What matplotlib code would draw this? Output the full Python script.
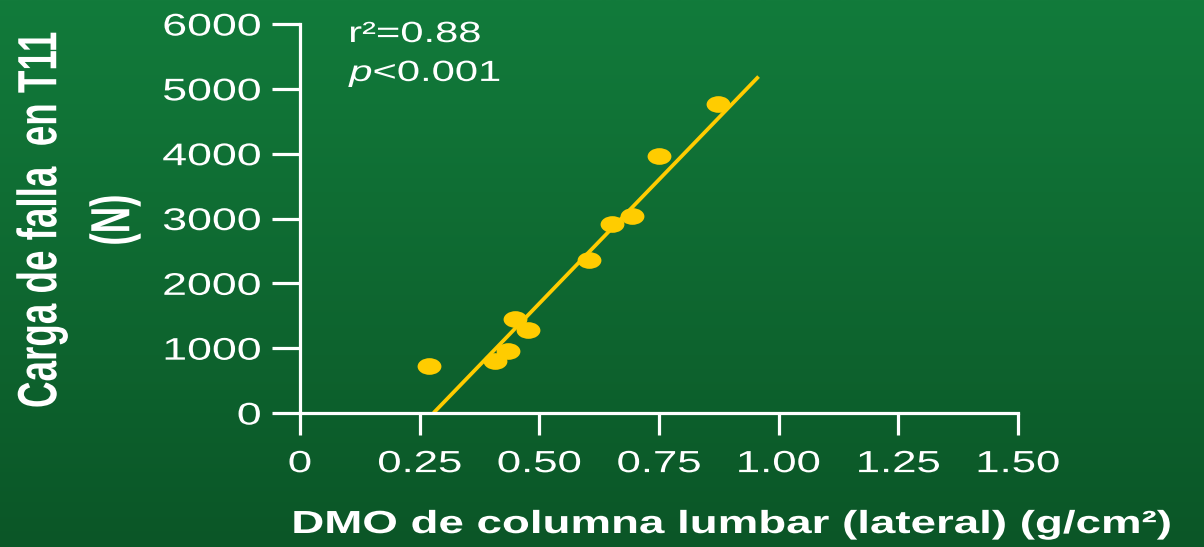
import numpy as np
import matplotlib
matplotlib.use("Agg")
import matplotlib.pyplot as plt
import matplotlib.patheffects as pe
from matplotlib.markers import MarkerStyle
from matplotlib.transforms import Affine2D

plt.rcParams['font.family'] = ['Liberation Sans', 'DejaVu Sans']
plt.rcParams['mathtext.fontset'] = 'custom'
plt.rcParams['mathtext.rm'] = 'Liberation Sans'
plt.rcParams['mathtext.it'] = 'Liberation Sans:italic'

# DMO lateral (g/cm2) vs carga de falla en T11 (N)
dmo = [0.270, 0.407, 0.434, 0.450, 0.477, 0.604, 0.652, 0.693, 0.749, 0.874]
carga = [725, 800, 955, 1450, 1280, 2355, 2915, 3035, 3965, 4765]

# regression line
fit_slope = 7640
fit_intercept = -2130
fit_x = [0.279, 0.958]

x_ticks = [0, 0.25, 0.50, 0.75, 1.00, 1.25, 1.50]
x_ticklabels = ['0', '0.25', '0.50', '0.75', '1.00', '1.25', '1.50']
y_ticks = [0, 1000, 2000, 3000, 4000, 5000, 6000]

stats_lines = ['r²=0.88', '$p$<0.001']
xlabel = 'DMO de columna lumbar (lateral) (g/cm²)'
ylabel_lines = ['Carga de falla  en T11', '(N)']

yellow = '#FFCC00'
K = 1.43  # horizontal widening of glyphs and markers


class HStretch(pe.AbstractPathEffect):
    """Widen text horizontally about its left, centre or right edge."""
    def __init__(self, k, anchor='center'):
        super().__init__()
        self.k = k
        self.anchor = anchor

    def draw_path(self, renderer, gc, tpath, affine, rgbFace=None):
        box = tpath.get_extents(affine)
        px = {'left': box.x0, 'right': box.x1}.get(self.anchor, (box.x0 + box.x1) / 2)
        stretch = Affine2D().translate(-px, 0).scale(self.k, 1).translate(px, 0)
        renderer.draw_path(gc, tpath, affine + stretch, rgbFace)


W, H = 1204, 547
fig = plt.figure(figsize=(W / 100, H / 100), dpi=100)

# green gradient background
bg = fig.add_axes([0, 0, 1, 1], zorder=-10)
top = np.array([18, 123, 59]) / 255
bottom = np.array([11, 86, 39]) / 255
t = np.linspace(0, 1, 256)[:, None]
grad = (top[None, :] * (1 - t) + bottom[None, :] * t)[:, None, :]
bg.imshow(grad, aspect='auto', extent=[0, 1, 0, 1])
bg.axis('off')

ax = fig.add_axes([300 / W, 1 - 413 / H, (1018 - 300) / W, (413 - 24) / H])
ax.patch.set_alpha(0)

mk = MarkerStyle('o', transform=Affine2D().scale(K, 1))
ax.plot(dmo, carga, linestyle='none', marker=mk, markersize=12,
        color=yellow, markeredgewidth=0, zorder=3, clip_on=False)

fx = np.array(fit_x)
ax.plot(fx, fit_slope * fx + fit_intercept, color=yellow, lw=2.7,
        solid_capstyle='butt', zorder=2, clip_on=False)

ax.set_xlim(0, 1.5)
ax.set_ylim(0, 6000)
for side in ['top', 'right']:
    ax.spines[side].set_visible(False)
for side in ['left', 'bottom']:
    ax.spines[side].set_color('white')
    ax.spines[side].set_linewidth(2.3)

ax.set_xticks(x_ticks)
ax.set_xticklabels(x_ticklabels)
ax.set_yticks(y_ticks)
ax.tick_params(axis='x', colors='white', width=2.3, length=16, pad=10,
               labelsize=22)
ax.tick_params(axis='y', colors='white', width=2.3, length=20, pad=8,
               labelsize=22.5)
for lbl in ax.get_xticklabels():
    lbl.set_path_effects([HStretch(K, 'center')])
for lbl in ax.get_yticklabels():
    lbl.set_path_effects([HStretch(K, 'right')])

# statistics
fig.text(349 / W, 1 - 42 / H, stats_lines[0], color='white', fontsize=21,
         ha='left', va='baseline', path_effects=[HStretch(K, 'left')])
fig.text(349 / W, 1 - 81 / H, stats_lines[1], color='white', fontsize=21,
         ha='left', va='baseline', path_effects=[HStretch(K, 'left')])

# axis titles
fig.text(732 / W, 1 - 525 / H, xlabel, color='white', fontsize=23,
         fontweight='bold', ha='center', va='center',
         path_effects=[HStretch(K, 'center')])
fig.text(42 / W, 1 - 220 / H, ylabel_lines[0], color='white', fontsize=26.5,
         fontweight='bold', rotation=90, ha='center', va='center',
         path_effects=[HStretch(1.5, 'center')])
fig.text(115 / W, 1 - 220 / H, ylabel_lines[1], color='white', fontsize=26.5,
         fontweight='bold', rotation=90, ha='center', va='center',
         path_effects=[HStretch(1.5, 'center')])

fig.savefig('out.png', dpi=100)
